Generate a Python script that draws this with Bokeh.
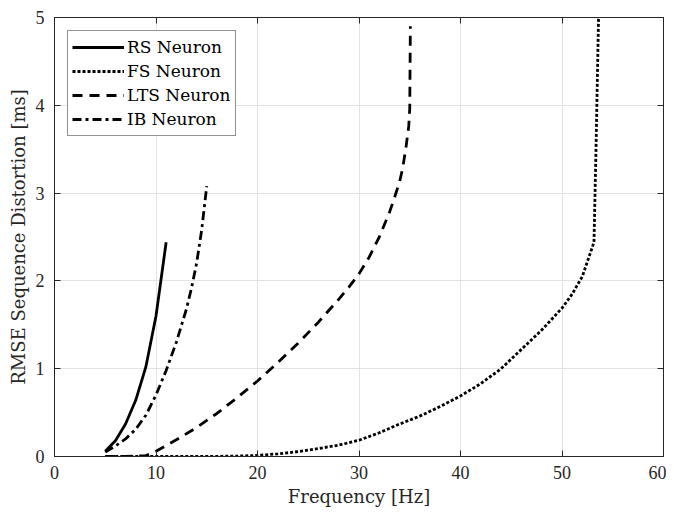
from bokeh.plotting import figure
from bokeh.models import LinearAxis, FixedTicker, Range1d
from bokeh.embed import file_html
from bokeh.resources import INLINE

# ---- data ----
rs_x = [5, 6, 7, 8, 9, 10, 11]
rs_y = [0.06, 0.18, 0.37, 0.64, 1.02, 1.6, 2.44]

fs_x = [5, 10, 15, 18, 20, 22, 24, 26, 28, 30, 32, 34, 36, 38, 40, 42, 44, 46, 48, 50, 51, 52, 53.15, 53.35, 53.6]
fs_y = [0, 0, 0, 0.005, 0.012, 0.03, 0.055, 0.09, 0.13, 0.185, 0.27, 0.37, 0.46, 0.57, 0.69, 0.83, 1.0, 1.22, 1.44, 1.69, 1.85, 2.05, 2.44, 3.5, 5.0]

lts_x = [5, 7, 9, 10, 12, 14, 16, 18, 20, 22, 24, 26, 28, 29, 30, 31, 32, 33, 33.5, 34, 34.3, 34.65, 34.9, 35.0, 35.06]
lts_y = [0, 0, 0.01, 0.06, 0.19, 0.33, 0.49, 0.67, 0.86, 1.07, 1.29, 1.53, 1.79, 1.93, 2.08, 2.27, 2.5, 2.78, 2.95, 3.13, 3.28, 3.54, 3.76, 3.96, 4.9]

ib_x = [5, 6, 7, 8, 9, 10, 11, 12, 13, 13.5, 14, 14.5, 15]
ib_y = [0.05, 0.12, 0.2, 0.31, 0.47, 0.7, 0.98, 1.3, 1.68, 1.92, 2.2, 2.58, 3.08]

x_ticks = [0, 10, 20, 30, 40, 50, 60]
y_ticks = [0, 1, 2, 3, 4, 5]
x_label = "Frequency [Hz]"
y_label = "RMSE Sequence Distortion [ms]"
series_names = ["RS Neuron", "FS Neuron", "LTS Neuron", "IB Neuron"]

AX = "#262626"
LABEL_FONT = "DejaVu Serif"
TICK_FONT = "Liberation Serif"

p = figure(width=666, height=509, x_range=Range1d(0, 60), y_range=Range1d(0, 5),
           output_backend="svg", toolbar_location=None,
           min_border_left=54, min_border_right=3, min_border_top=17, min_border_bottom=49)

p.outline_line_color = AX
p.outline_line_width = 1
p.background_fill_color = "white"
p.border_fill_color = "white"

for ax, ticks in ((p.xaxis[0], x_ticks), (p.yaxis[0], y_ticks)):
    ax.ticker = FixedTicker(ticks=ticks)
    ax.major_tick_in = 6
    ax.major_tick_out = 0
    ax.minor_tick_line_color = None
    ax.axis_line_color = AX
    ax.major_tick_line_color = AX
    ax.major_label_text_font = TICK_FONT
    ax.major_label_text_font_size = "18px"
    ax.major_label_text_color = AX
    ax.axis_label_text_font = LABEL_FONT
    ax.axis_label_text_font_size = "18px"
    ax.axis_label_text_font_style = "normal"
    ax.axis_label_text_color = AX

p.xaxis.axis_label = x_label
p.yaxis.axis_label = y_label
p.xaxis.major_label_standoff = 9
p.yaxis.major_label_standoff = 10
p.xaxis.axis_label_standoff = 4
p.yaxis.axis_label_standoff = 4

# box axes (top / right) with inward ticks, labels not drawn
for loc, ticks in (("above", x_ticks), ("right", y_ticks)):
    a = LinearAxis(ticker=FixedTicker(ticks=ticks), major_tick_in=6, major_tick_out=0,
                   minor_tick_line_color=None, axis_line_color=AX, major_tick_line_color=AX,
                   major_label_text_font_size="1px", major_label_text_color=None,
                   major_label_standoff=0)
    p.add_layout(a, loc)

p.grid.grid_line_color = "#e3e3e3"
p.grid.grid_line_width = 1
p.xgrid.ticker = FixedTicker(ticks=x_ticks)
p.ygrid.ticker = FixedTicker(ticks=y_ticks)

lw = 2.8
p.line(rs_x, rs_y, line_width=lw, color="black", legend_label=series_names[0])
p.line(fs_x, fs_y, line_width=lw, color="black", line_dash="3 2", legend_label=series_names[1])
p.line(lts_x, lts_y, line_width=lw, color="black", line_dash="10 7", legend_label=series_names[2])
p.line(ib_x, ib_y, line_width=lw, color="black", line_dash="9 4 3 4", legend_label=series_names[3])

lg = p.legend[0]
lg.location = "top_left"
lg.margin = 13
lg.padding = 4
lg.spacing = 0
lg.label_height = 24
lg.glyph_height = 24
lg.glyph_width = 52
lg.label_standoff = 3
lg.label_text_font = LABEL_FONT
lg.label_text_font_size = "17px"
lg.label_text_color = "black"
lg.border_line_color = AX
lg.border_line_width = 1
lg.background_fill_color = "white"
lg.background_fill_alpha = 1.0

open("out.html", "w").write(file_html(p, INLINE))
